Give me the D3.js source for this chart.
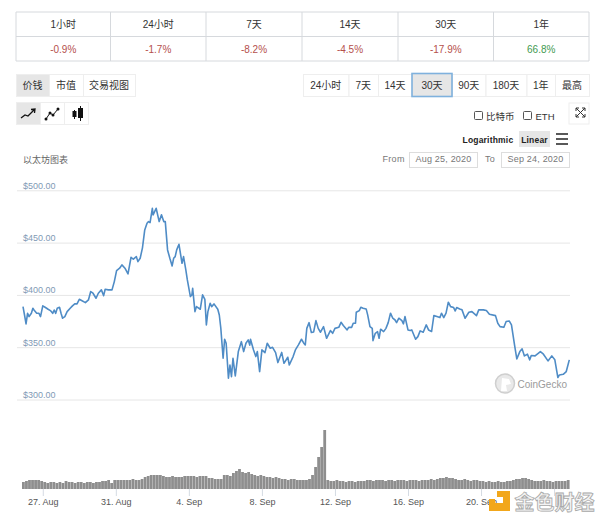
<!DOCTYPE html>
<html>
<head>
<meta charset="utf-8">
<script src="https://cdnjs.cloudflare.com/ajax/libs/d3/7.8.5/d3.min.js"></script>
<style>
    html, body { margin: 0; padding: 0; background: #fff; }
    svg { display: block; }
    text { font-family: "Liberation Sans", "Noto Sans CJK SC", sans-serif; }
</style>
</head>
<body>
<div id="app"></div>
<script>
var changeLabels = ['1小时', '24小时', '7天', '14天', '30天', '1年'];
var changeValues = ['-0.9%', '-1.7%', '-8.2%', '-4.5%', '-17.9%', '66.8%'];
var viewLabels = ['价钱', '市值', '交易视图'];
var rangeLabels = ['24小时', '7天', '14天', '30天', '90天', '180天', '1年', '最高'];
var priceTicks = [300, 350, 400, 450, 500];
var dateTicks = ['2020-08-27', '2020-08-31', '2020-09-04', '2020-09-08', '2020-09-12', '2020-09-16', '2020-09-20', '2020-09-24'];

// hours since the first point, and the price at that hour
var priceHours = [
    0, 2, 4, 6, 8, 11, 13, 15, 18, 21, 23, 26, 29, 33, 36, 39, 41, 43, 45, 48,
    50, 52, 55, 58, 62, 65, 68, 71, 74, 77, 82, 86, 89, 92, 96, 99, 103, 106, 108, 112,
    117, 120, 123, 127, 130, 134, 138, 142, 145, 149, 151, 154, 157, 160, 163, 165, 167, 170, 171, 175,
    179, 182, 185, 187, 190, 193, 196, 198, 200, 202, 205, 209, 211, 214, 216, 220, 222, 223, 226, 228,
    233, 236, 239, 241, 243, 246, 248, 251, 256, 258, 260, 263, 265, 267, 270, 272, 274, 276, 279, 283,
    287, 290, 293, 296, 298, 299, 303, 306, 308, 311, 314, 318, 321, 325, 328, 332, 335, 340, 343, 348,
    350, 355, 358, 362, 366, 369, 371, 373, 376, 379, 382, 385, 388, 391, 395, 399, 404, 407, 410, 415,
    418, 421, 426, 428, 432, 434, 437, 438, 442, 444, 447, 451, 453, 456, 459, 460, 463, 466, 468, 470,
    474, 477, 480, 483, 486, 489, 491, 494, 498, 500, 502, 506, 509, 511, 516, 519, 522, 526, 530, 533,
    537, 540, 544, 548, 550, 553, 556, 559, 562, 566, 568, 570, 574, 577, 581, 586, 590, 596, 599, 605,
    609, 613, 621, 624, 627, 632, 635, 639, 642, 646, 649, 653, 656, 659, 663, 666, 668, 673, 680, 684,
    690, 695, 699, 703, 705, 710, 714, 718
];
var prices = [
    388.8, 380.8, 372.2, 382.4, 379.3, 382.4, 387.2, 385, 382.4, 382.4, 379.3, 389.5, 388.2, 386.3, 385, 382.4, 385.6, 382.4, 387.2, 388.2,
    382.4, 377.7, 379.3, 384, 387.2, 389.5, 391.4, 391.4, 395.8, 394.6, 392.6, 395.2, 403.2, 401.6, 396.8, 401.6, 404.8, 399.3, 405.4, 404.8,
    404.8, 412.7, 423.2, 425.5, 428.7, 425.5, 420, 436, 434.1, 436.6, 431.8, 435, 445, 462.1, 468.5, 470.1, 469.1, 482.8, 476.5, 482.8,
    470.1, 476.5, 470.1, 470.1, 443, 435, 427.7, 435, 436.6, 443, 448.4, 430.2, 436.6, 423.9, 414.3, 398.4, 400, 406.3, 384, 388.8,
    386.3, 400, 395.8, 371.3, 384, 392, 388.8, 391.4, 386.3, 380.8, 368.1, 339.4, 357.6, 353.8, 320.3, 333, 321.9, 339.4, 322.5, 345.8,
    355.3, 345.8, 353.8, 357, 352, 357.6, 347.4, 341, 345.8, 326.7, 347.4, 344.8, 353.8, 349, 349.9, 344.8, 335.3, 345, 334.6, 340.4,
    333, 341, 347.4, 352.2, 357.6, 353.8, 352.2, 368, 373.5, 364, 364.6, 375.4, 368, 364.3, 369.7, 358.5, 365.9, 363.3, 368, 369,
    373.8, 370.7, 366.5, 369, 369, 372.9, 372.9, 383.4, 385, 388.2, 387.2, 386.6, 380.9, 369.7, 368, 356.3, 363.3, 364.9, 358.5, 367.2,
    364.9, 368, 373.5, 382.5, 377.7, 376, 373.5, 377.7, 375.4, 372.3, 379.3, 366.5, 365.9, 366.5, 357.6, 360.1, 365.6, 364.3, 371.3, 366.5,
    365, 380.2, 379.3, 378.3, 382.5, 378.3, 382.5, 393, 388.8, 387.9, 384.7, 387.9, 386.6, 385.7, 377.7, 383.4, 384, 380.2, 385.7, 385.7,
    385, 381.5, 380.2, 372.9, 369.7, 369, 374.5, 375.1, 371.3, 352.2, 338.8, 345.8, 348.4, 341.7, 343.3, 337.9, 342, 341.7, 345.8, 343.3,
    336.9, 341.7, 337.9, 321, 323.5, 324.1, 326.7, 337.9
];
// one bar every four hours
var volumes = [
    7, 8, 9, 9, 9, 9, 8, 7,
    6, 7, 7, 6, 7, 6, 8, 7, 7, 6, 7, 7, 6, 7, 7, 6, 7, 7,
    8, 8, 9, 6, 9, 9, 9, 9, 9, 9, 10, 9, 9, 10,
    12, 13, 14, 14, 14, 14, 13, 12, 12, 13, 12, 12, 12, 13, 13, 13, 13, 12, 13, 13, 13,
    11, 11, 10, 10, 10, 14, 14, 13, 16, 18, 20, 17, 16, 17, 15, 14, 13, 14, 13,
    12, 12, 11, 12, 11, 10, 10, 9, 10, 10, 9, 9, 9, 9, 10,
    14, 22, 32, 42, 59,
    9, 8, 8, 9, 8, 8, 7, 8, 8, 7, 8, 8, 8,
    9, 9, 8, 9, 9, 9, 8, 9, 9, 8, 9, 9, 9, 8, 9, 9, 9, 8, 9, 9, 9, 10, 9,
    10, 11, 11, 12, 11, 11, 10, 9, 9, 10, 9, 8, 9, 9,
    8, 8, 7, 8, 7, 7, 8, 7, 7, 8, 8, 9, 10, 10, 11,
    11, 10, 9, 8, 8, 8, 9, 8, 8, 7, 8, 8, 8, 8, 9
];

var startTime = new Date(Date.UTC(2020, 7, 25, 22));
var timeAt = function(h) { return d3.utcHour.offset(startTime, h); };

var svg = d3.select('#app').append('svg').attr('width', 600).attr('height', 518);

var x = d3.scaleUtc().domain([timeAt(0), timeAt(718)]).range([23, 569.3]);
var y = d3.scaleLinear().domain([300, 500]).range([399.5, 190.3]);
var yVolume = d3.scaleLinear().domain([0, 59]).range([489, 430]);

function label(parent, px, py, str, size, color, anchor) {
    return parent.append('text')
        .attr('x', px).attr('y', py)
        .attr('font-size', size)
        .attr('fill', color)
        .attr('text-anchor', anchor || 'middle')
        .text(str);
}

function button(px, py, w, h, str, active) {
    svg.append('rect')
        .attr('x', px + 0.5).attr('y', py + 0.5)
        .attr('width', w).attr('height', h)
        .attr('fill', active ? '#e6e6e6' : '#fff')
        .attr('stroke', '#eeeeee');
    if (str) label(svg, px + w / 2, py + h / 2 + 3.5, str, 10, '#333');
}

// change table
var tableEdges = [16, 110.5, 206, 302, 398, 493.5, 589];
changeLabels.forEach(function(name, i) {
    var mid = (tableEdges[i] + tableEdges[i + 1]) / 2;
    var value = changeValues[i];
    label(svg, mid, 27.5, name, 10, '#333');
    label(svg, mid, 53, value, 10, value[0] === '-' ? '#b5504c' : '#3f9a50');
});
[12, 36.5, 61].forEach(function(py) {
    svg.append('line').attr('x1', 16).attr('x2', 589).attr('y1', py).attr('y2', py)
        .attr('stroke', '#d6d9dd');
});
tableEdges.forEach(function(px) {
    svg.append('line').attr('x1', px).attr('x2', px).attr('y1', 12).attr('y2', 61)
        .attr('stroke', '#d6d9dd');
});

// view and range buttons
var viewEdges = [16, 49, 83, 135];
viewLabels.forEach(function(name, i) {
    button(viewEdges[i], 74, viewEdges[i + 1] - viewEdges[i], 22, name, i === 0);
});
var rangeEdges = [303, 348.5, 378, 412, 452, 485.5, 526.5, 555, 589];
rangeLabels.forEach(function(name, i) {
    button(rangeEdges[i], 74, rangeEdges[i + 1] - rangeEdges[i], 22, name, false);
});
svg.append('rect').attr('x', 412).attr('y', 73.5).attr('width', 40).attr('height', 23)
    .attr('fill', '#e6e6e6').attr('stroke', '#7fb1dd').attr('stroke-width', 1.6);
label(svg, 432, 88.5, rangeLabels[3], 10, '#333');

// chart type icons
[16, 40, 64].forEach(function(px, i) {
    button(px, 102, 24, 22, '', i === 0);
});
svg.append('path').attr('d', 'M21 118L25 115L28 116L34 110M31 109.500L35 109L34.500 113')
    .attr('fill', 'none').attr('stroke', '#111').attr('stroke-width', 1.3);
svg.append('path').attr('d', 'M46 119L50 113L53 115L58 109')
    .attr('fill', 'none').attr('stroke', '#111').attr('stroke-width', 1);
[[46, 119], [50, 113], [53, 115], [58, 109]].forEach(function(p) {
    svg.append('circle').attr('cx', p[0]).attr('cy', p[1]).attr('r', 1.5).attr('fill', '#111');
});
svg.append('path').attr('d', 'M74.500 110v9M80.500 106v15').attr('stroke', '#111');
svg.append('rect').attr('x', 72.500).attr('y', 111).attr('width', 4).attr('height', 6).attr('fill', '#111');
svg.append('rect').attr('x', 78).attr('y', 108).attr('width', 5).attr('height', 10).attr('fill', '#111');

// compare checkboxes and expand button
[[474.5, '比特币', 486], [523.5, 'ETH', 535.5]].forEach(function(c) {
    svg.append('rect').attr('x', c[0]).attr('y', 111.5).attr('width', 8).attr('height', 8).attr('rx', 1)
        .attr('fill', '#fff').attr('stroke', '#555');
    label(svg, c[2], 119.5, c[1], 9.5, '#333', 'start');
});
svg.append('rect').attr('x', 569).attr('y', 103).attr('width', 20).attr('height', 21)
    .attr('fill', '#fff').attr('stroke', '#eeeeee');
svg.append('path').attr('d', 'M576 111v-3h3M582 108h3v3M585 114v3h-3M579 117h-3v-3M576 108l9 9M585 108l-9 9')
    .attr('fill', 'none').attr('stroke', '#333');

// scale switch and date inputs
svg.append('rect').attr('x', 519).attr('y', 131).attr('width', 31).attr('height', 16).attr('fill', '#e6e6e6');
label(svg, 462.500, 142.500, 'Logarithmic', 8.5, '#222', 'start').attr('font-weight', 'bold').attr('letter-spacing', 0.2);
label(svg, 534.500, 142.500, 'Linear', 8.5, '#222').attr('font-weight', 'bold').attr('letter-spacing', 0.2);
[134, 139, 144].forEach(function(py) {
    svg.append('line').attr('x1', 556).attr('x2', 568).attr('y1', py).attr('y2', py)
        .attr('stroke', '#222').attr('stroke-width', 1.5);
});
label(svg, 382.500, 161.500, 'From', 9, '#777', 'start').attr('font-family', 'DejaVu Sans').attr('letter-spacing', 0.3);
label(svg, 485, 161.500, 'To', 9, '#777', 'start').attr('font-family', 'DejaVu Sans').attr('letter-spacing', 0.3);
[[409, 'Aug 25, 2020'], [501, 'Sep 24, 2020']].forEach(function(d) {
    svg.append('rect').attr('x', d[0] + 0.5).attr('y', 152.5).attr('width', 68).attr('height', 15)
        .attr('fill', '#fff').attr('stroke', '#ddd');
    label(svg, d[0] + 34.5, 161.500, d[1], 9, '#777').attr('font-family', 'DejaVu Sans').attr('letter-spacing', 0.2);
});

label(svg, 23, 163, '以太坊图表', 9, '#666', 'start');

// price grid and labels
var yAxis = svg.append('g')
    .attr('transform', 'translate(570,0)')
    .call(d3.axisLeft(y).tickValues(priceTicks).tickSize(553)
        .tickFormat(function(d) { return '$' + d3.format('.2f')(d); }));
yAxis.select('.domain').remove();
yAxis.selectAll('.tick line').attr('stroke', '#e6e6e6');
yAxis.selectAll('.tick text')
    .attr('x', -547)
    .attr('dy', -2)
    .attr('text-anchor', 'start')
    .attr('font-size', 9)
    .attr('font-family', 'DejaVu Sans')
    .attr('fill', '#7f9ab5');

// CoinGecko mark sits behind the line
svg.append('circle').attr('cx', 505).attr('cy', 383.500).attr('r', 9.5)
    .attr('fill', '#e9e9e9').attr('stroke', '#cfcfcf').attr('stroke-width', 1.5);
svg.append('path').attr('d', 'M501 391L502 378L509 379L511 384L506 385L507 391Z').attr('fill', '#fff');
label(svg, 517.500, 387.500, 'CoinGecko', 10, '#9b9b9b', 'start');

// price line
var line = d3.line()
    .x(function(d, i) { return x(timeAt(priceHours[i])); })
    .y(function(d) { return y(d); });
svg.append('path').datum(prices)
    .attr('d', line)
    .attr('fill', 'none')
    .attr('stroke', '#4f8cc6')
    .attr('stroke-width', 1.6)
    .attr('stroke-linejoin', 'round');

// volume bars
svg.selectAll('rect.volume').data(volumes).enter().append('rect')
    .attr('class', 'volume')
    .attr('x', function(d, i) { return x(timeAt(i * 4)) - 1; })
    .attr('y', function(d) { return yVolume(d); })
    .attr('width', 2.800)
    .attr('height', function(d) { return yVolume(0) - yVolume(d); })
    .attr('fill', '#8e8e8e');

// date axis
var xAxis = svg.append('g')
    .attr('transform', 'translate(0,489)')
    .call(d3.axisBottom(x)
        .tickValues(dateTicks.map(function(d) { return new Date(d + 'T00:00:00Z'); }))
        .tickSize(7)
        .tickFormat(function(d, i) { return i === 7 ? '' : d3.utcFormat('%-d. %b')(d); }));
xAxis.select('.domain').remove();
xAxis.selectAll('.tick line').attr('stroke', '#d5dbe3');
xAxis.selectAll('.tick text')
    .attr('y', 10)
    .attr('font-size', 9)
    .attr('font-family', 'DejaVu Sans')
    .attr('fill', '#555');

// site watermark
svg.append('path').attr('d', 'M497 491H510V511H489V503H503V497H497Z').attr('fill', '#f2a71b');
svg.append('rect').attr('x', 489).attr('y', 499).attr('width', 6).attr('height', 6).attr('fill', '#f2a71b');
label(svg, 514.500, 510, '金色财经', 20, '#f4f4f4', 'start')
    .attr('stroke', '#a8a8a8').attr('stroke-width', 0.8).attr('font-weight', 'bold');
</script>
</body>
</html>
